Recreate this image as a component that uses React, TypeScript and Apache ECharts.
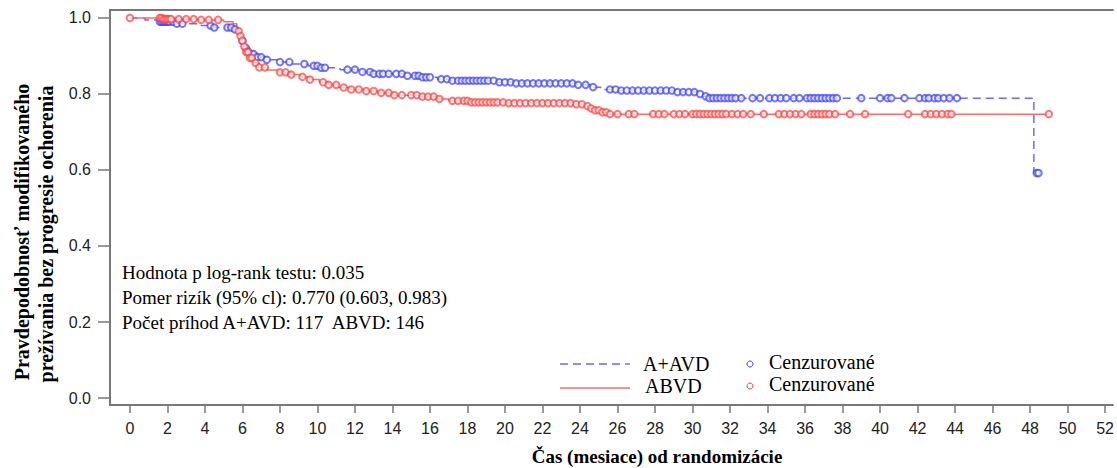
import React, { useEffect, useRef } from "react";
import * as echarts from "echarts";

// A+AVD (blue) Kaplan-Meier step: event times (months) and survival after each event
const blueTimes = [0, 0.8, 1.5, 2.5, 3.8, 4.5, 5.5, 5.75, 5.85, 5.95, 6.05, 6.15, 6.3, 6.5, 6.8, 7.3, 7.9, 8.6, 9.5, 10.1, 11.2, 12.2, 12.9, 14.6, 15.5, 16.4, 17.1, 19.6, 20.5, 23.8, 24.6, 25.1, 26.0, 29.2, 30.3, 30.6, 30.9, 48.2];
const blueSurv = [1.0, 0.995, 0.99, 0.985, 0.98, 0.975, 0.97, 0.96, 0.95, 0.94, 0.93, 0.92, 0.912, 0.905, 0.897, 0.89, 0.884, 0.879, 0.874, 0.869, 0.864, 0.858, 0.853, 0.848, 0.844, 0.839, 0.835, 0.831, 0.828, 0.824, 0.818, 0.812, 0.809, 0.805, 0.8, 0.794, 0.789, 0.592];
const blueEnd = 48.45;
const blueCensor = [1.6, 1.7, 1.8, 1.9, 2.0, 2.1, 2.3, 2.5, 2.8, 4.3, 4.5, 5.2, 5.4, 5.6, 6.0, 6.2, 6.3, 6.5, 6.6, 6.8, 7.0, 7.3, 8.0, 8.5, 9.3, 9.8, 10.0, 10.2, 10.4, 11.6, 12.0, 12.4, 12.8, 13.0, 13.3, 13.5, 13.8, 14.2, 14.5, 14.8, 15.2, 15.4, 15.6, 15.8, 16.0, 16.6, 16.9, 17.2, 17.5, 17.7, 17.9, 18.1, 18.3, 18.5, 18.7, 18.9, 19.1, 19.4, 19.7, 20.0, 20.3, 20.6, 20.9, 21.2, 21.5, 21.8, 22.1, 22.4, 22.7, 23.0, 23.3, 23.6, 23.9, 24.3, 24.7, 25.6, 25.9, 26.2, 26.5, 26.8, 27.1, 27.4, 27.7, 28.0, 28.3, 28.6, 28.9, 29.2, 29.5, 29.8, 30.1, 30.4, 30.7, 30.9, 31.1, 31.3, 31.5, 31.7, 31.9, 32.1, 32.3, 32.6, 33.2, 33.6, 34.1, 34.4, 34.7, 35.0, 35.4, 35.7, 36.1, 36.3, 36.5, 36.7, 36.9, 37.1, 37.3, 37.5, 37.7, 39.0, 40.0, 40.4, 40.6, 41.3, 42.1, 42.4, 42.6, 42.9, 43.1, 43.4, 43.7, 44.1, 48.35, 48.45];

// ABVD (red)
const redTimes = [0, 1.8, 3.5, 5.0, 5.5, 5.7, 5.8, 5.9, 6.0, 6.1, 6.2, 6.35, 6.55, 6.85, 7.3, 7.9, 8.6, 9.1, 9.6, 10.1, 10.6, 11.1, 11.8, 12.5, 13.2, 14.0, 15.4, 16.3, 17.0, 18.2, 20.0, 23.6, 24.2, 24.5, 24.8, 25.1, 25.5];
const redSurv = [1.0, 0.997, 0.995, 0.99, 0.985, 0.975, 0.965, 0.952, 0.94, 0.925, 0.91, 0.895, 0.882, 0.87, 0.863, 0.857, 0.851, 0.845, 0.838, 0.831, 0.824, 0.817, 0.812, 0.808, 0.803, 0.797, 0.793, 0.787, 0.782, 0.778, 0.776, 0.773, 0.768, 0.762, 0.757, 0.752, 0.747];
const redEnd = 49.0;
const redCensor = [0, 1.6, 1.7, 1.8, 1.9, 2.0, 2.1, 2.2, 2.6, 3.0, 3.4, 3.8, 4.2, 4.7, 5.8, 5.9, 6.0, 6.1, 6.2, 6.3, 6.4, 6.5, 6.7, 6.9, 7.2, 8.0, 8.3, 8.6, 9.2, 9.6, 10.3, 10.6, 11.0, 11.4, 11.8, 12.2, 12.6, 13.0, 13.4, 13.8, 14.1, 14.5, 15.0, 15.3, 15.6, 15.9, 16.2, 16.5, 17.2, 17.5, 17.8, 18.0, 18.2, 18.4, 18.6, 18.8, 19.0, 19.2, 19.4, 19.6, 19.9, 20.2, 20.5, 20.8, 21.1, 21.4, 21.7, 22.0, 22.3, 22.6, 22.9, 23.2, 23.5, 23.8, 24.1, 24.4, 24.6, 24.8, 25.0, 25.2, 25.4, 25.6, 26.0, 26.6, 26.9, 27.9, 28.2, 28.5, 29.0, 29.3, 29.6, 30.0, 30.2, 30.4, 30.6, 30.8, 31.0, 31.2, 31.4, 31.6, 31.8, 32.1, 32.4, 32.7, 33.1, 33.8, 34.6, 34.9, 35.2, 35.5, 35.8, 36.3, 36.5, 36.7, 36.9, 37.1, 37.3, 37.6, 38.4, 39.2, 41.5, 42.4, 42.7, 43.0, 43.3, 43.6, 43.8, 49.0];

const xTicks = [0, 2, 4, 6, 8, 10, 12, 14, 16, 18, 20, 22, 24, 26, 28, 30, 32, 34, 36, 38, 40, 42, 44, 46, 48, 50, 52];
const yTicks = [0, 0.2, 0.4, 0.6, 0.8, 1.0];

const annotations = [
  "Hodnota p log-rank testu: 0.035",
  "Pomer rizík (95% cl): 0.770 (0.603, 0.983)",
  "Počet príhod A+AVD: 117  ABVD: 146",
];
const yTitle = ["Pravdepodobnosť modifikovaného", "prežívania bez progresie ochorenia"];
const xTitle = "Čas (mesiace) od randomizácie";
const legendNames = ["A+AVD", "ABVD"];
const censorName = "Cenzurované";

const BLUE_LINE = "#6a6aff";
const RED_LINE = "#ff6a6a";
const BLUE_MK = "#3a3aff";
const RED_MK = "#ff3a3a";
const SERIF = "'Liberation Serif', 'Times New Roman', serif";
const SANS = "'Liberation Sans', Arial, sans-serif";

function survAt(times: number[], surv: number[], t: number) {
  let v = surv[0];
  for (let i = 0; i < times.length; i++) {
    if (times[i] <= t) v = surv[i];
  }
  return v;
}

function stepData(times: number[], surv: number[], end: number) {
  const d = times.map((t, i) => [t, surv[i]]);
  d.push([end, surv[surv.length - 1]]);
  return d;
}

export default function App() {
  const ref = useRef<HTMLDivElement>(null);
  useEffect(() => {
    if (!ref.current) return;
    const chart = echarts.init(ref.current, undefined, { renderer: "svg" });
    const axisColor = "#777";
    const xMin = -1.062;
    const xMax = 52.417;
    const option: any = {
      animation: false,
      grid: { left: 110, right: 0, top: 10, bottom: 63 },
      xAxis: [
        {
          type: "value",
          min: xMin,
          max: xMax,
          axisLine: { show: true, onZero: false, lineStyle: { color: axisColor, width: 2 } },
          axisTick: { show: true, customValues: xTicks, length: 8, lineStyle: { color: axisColor, width: 1.5 } },
          axisLabel: { customValues: xTicks, fontFamily: SANS, fontSize: 16, color: "#222", margin: 15 },
          splitLine: { show: false },
        },
        {
          type: "value",
          position: "top",
          min: xMin,
          max: xMax,
          axisLine: { show: true, onZero: false, lineStyle: { color: axisColor, width: 2 } },
          axisTick: { show: false },
          axisLabel: { show: false },
          splitLine: { show: false },
        },
      ],
      yAxis: {
        type: "value",
        min: -0.0184,
        max: 1.021,
        axisLine: { show: true, onZero: false, lineStyle: { color: axisColor, width: 2 } },
        axisTick: { show: true, customValues: yTicks, length: 12, lineStyle: { color: axisColor, width: 1.5 } },
        axisLabel: {
          customValues: yTicks,
          formatter: (v: number) => v.toFixed(1),
          fontFamily: SANS,
          fontSize: 16,
          color: "#222",
          margin: 19,
        },
        splitLine: { show: false },
      },
      series: [
        {
          type: "line",
          step: "end",
          data: stepData(blueTimes, blueSurv, blueEnd),
          symbol: "none",
          lineStyle: { color: BLUE_LINE, width: 1.5, type: [8, 5] },
          z: 2,
        },
        {
          type: "line",
          step: "end",
          data: stepData(redTimes, redSurv, redEnd),
          symbol: "none",
          lineStyle: { color: RED_LINE, width: 1.5 },
          z: 2,
        },
        {
          type: "scatter",
          data: blueCensor.map((t) => [t, survAt(blueTimes, blueSurv, t)]),
          symbol: "emptyCircle",
          symbolSize: 6.5,
          itemStyle: { color: BLUE_MK, borderColor: BLUE_MK, borderWidth: 1, opacity: 0.7 },
          z: 3,
        },
        {
          type: "scatter",
          data: redCensor.map((t) => [t, survAt(redTimes, redSurv, t)]),
          symbol: "emptyCircle",
          symbolSize: 6.5,
          itemStyle: { color: RED_MK, borderColor: RED_MK, borderWidth: 1, opacity: 0.7 },
          z: 4,
        },
      ],
      graphic: [
        {
          type: "text",
          x: 22,
          y: 232,
          rotation: Math.PI / 2,
          style: { text: yTitle[0], font: `bold 20px ${SERIF}`, fill: "#000", align: "center", verticalAlign: "middle" },
        },
        {
          type: "text",
          x: 46,
          y: 234,
          rotation: Math.PI / 2,
          style: { text: yTitle[1], font: `bold 20px ${SERIF}`, fill: "#000", align: "center", verticalAlign: "middle" },
        },
        {
          type: "text",
          x: 657,
          y: 456,
          style: { text: xTitle, font: `bold 19px ${SERIF}`, fill: "#000", align: "center", verticalAlign: "middle" },
        },
        ...annotations.map((t, i) => ({
          type: "text",
          x: 122,
          y: 272 + i * 25,
          style: { text: t, font: `19px ${SERIF}`, fill: "#000", align: "left", verticalAlign: "middle" },
        })),
        {
          type: "line",
          shape: { x1: 560, y1: 364, x2: 630, y2: 364 },
          style: { stroke: BLUE_LINE, lineWidth: 1.5, lineDash: [8, 5] },
        },
        {
          type: "line",
          shape: { x1: 560, y1: 388, x2: 630, y2: 388 },
          style: { stroke: RED_LINE, lineWidth: 1.5 },
        },
        {
          type: "text",
          x: 643,
          y: 364,
          style: { text: legendNames[0], font: `20px ${SERIF}`, fill: "#000", align: "left", verticalAlign: "middle" },
        },
        {
          type: "text",
          x: 645,
          y: 386,
          style: { text: legendNames[1], font: `20px ${SERIF}`, fill: "#000", align: "left", verticalAlign: "middle" },
        },
        {
          type: "circle",
          shape: { cx: 750, cy: 364, r: 3 },
          style: { fill: "none", stroke: BLUE_MK, lineWidth: 1 },
        },
        {
          type: "circle",
          shape: { cx: 750, cy: 386, r: 3 },
          style: { fill: "none", stroke: RED_MK, lineWidth: 1 },
        },
        {
          type: "text",
          x: 769,
          y: 362,
          style: { text: censorName, font: `20px ${SERIF}`, fill: "#000", align: "left", verticalAlign: "middle" },
        },
        {
          type: "text",
          x: 769,
          y: 384,
          style: { text: censorName, font: `20px ${SERIF}`, fill: "#000", align: "left", verticalAlign: "middle" },
        },
      ],
    };
    chart.setOption(option);
    return () => chart.dispose();
  }, []);
  return (
    <div
      ref={ref}
      style={{ position: "absolute", left: 0, top: 0, width: 1117, height: 468, background: "#fff" }}
    />
  );
}
